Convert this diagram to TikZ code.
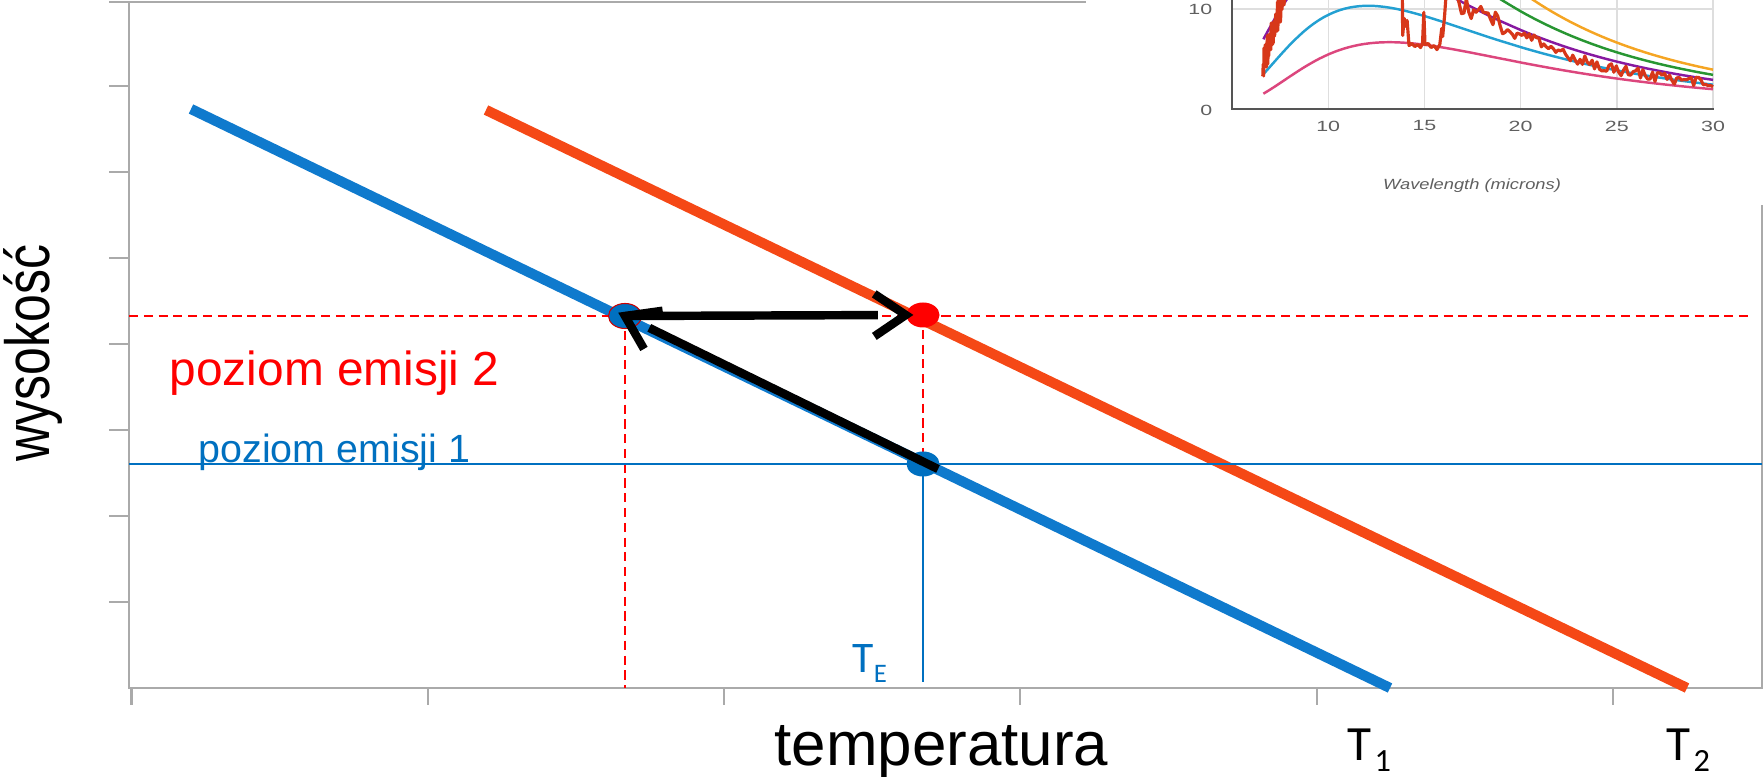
\documentclass[tikz,border=0pt]{standalone}
\usepackage{graphicx}
\usepackage{fontspec}
\setmainfont{Liberation Sans}
\newfontfamily\calfont{Carlito}
\usetikzlibrary{shapes.geometric, calc}

\definecolor{profBlue}{RGB}{15,122,205}
\definecolor{profRed}{RGB}{245,72,22}
\definecolor{lvlRed}{RGB}{255,0,0}
\definecolor{lvlBlue}{RGB}{0,112,192}
\definecolor{frameGray}{RGB}{170,170,170}
\definecolor{gridGray}{RGB}{222,222,222}
\definecolor{axisGray}{RGB}{85,85,85}
\definecolor{tickText}{RGB}{95,95,95}
\definecolor{bbPink}{RGB}{220,70,125}
\definecolor{bbCyan}{RGB}{35,160,210}
\definecolor{bbPurple}{RGB}{135,25,160}
\definecolor{bbGreen}{RGB}{40,150,50}
\definecolor{bbOrange}{RGB}{245,165,35}
\definecolor{specRed}{RGB}{215,55,25}

\tikzset{declare function={
  planck(\lm,\tk) = 3741.8/((\lm^2.5*exp(719.4/(\lm*\tk)))^2 - \lm^5);
  wx(\w) = 1232 + (\w-5)*19.24;
  wy(\v) = 109 - 10.07*\v;
}}

\begin{document}
\begin{tikzpicture}[
    x=0.01cm, y=-0.01cm,
    plotframe/.style={draw=frameGray, line width=0.6pt},
    profile/.style={line width=2.9pt},
    guide2/.style={draw=lvlRed, line width=0.45pt, dash pattern=on 2.6pt off 1.6pt},
    guide1/.style={draw=lvlBlue, line width=0.45pt},
    emdot/.style={ellipse, inner sep=0pt, minimum width=0.33cm, minimum height=0.25cm},
    lbl/.style={inner sep=0pt, anchor=base west},
    shaft/.style={line width=2.4pt, black},
    barb/.style={line width=2.4pt, black, line join=miter},
    gridline/.style={draw=gridGray, line width=0.4pt},
    bbcurve/.style={line width=0.7pt},
    spec/.style={draw=specRed, line width=0.9pt, line join=round},
    ticklbl/.style={text=tickText, inner sep=0pt, font=\fontsize{4.2}{5}\selectfont}
]
\useasboundingbox (0,0) rectangle (1764,777);

%% -- plot frame and ticks ---------------------------------------------------
\draw[plotframe] (109,2) -- (1086,2);
\draw[plotframe] (129,2) -- (129,688) -- (1762,688) -- (1762,205);
\foreach \y in {86,172,...,602} \draw[plotframe] (109,\y) -- (129,\y);
\foreach \i in {0,...,5} \draw[plotframe] ({131.5+296.3*\i},688) -- ++(0,17);

%% -- inset: outgoing spectrum -----------------------------------------------
\draw[gridline] (1232,9) -- (1714,9);
\foreach \w in {10,15,20,25,30} \draw[gridline] ({wx(\w)},0) -- ({wx(\w)},109);
\begin{scope}
  \clip (1232,0) rectangle (1716,109);
  \draw[bbcurve, bbPink]   plot[domain=6.63:30, samples=90] ({wx(\x)},{wy(planck(\x/10,220))});
  \draw[bbcurve, bbCyan]   plot[domain=6.63:30, samples=90] ({wx(\x)},{wy(planck(\x/10,240))});
  \draw[bbcurve, bbPurple] plot[domain=6.63:30, samples=90] ({wx(\x)},{wy(planck(\x/10,260))});
  \draw[bbcurve, bbGreen]  plot[domain=6.63:30, samples=90] ({wx(\x)},{wy(planck(\x/10,280))});
  \draw[bbcurve, bbOrange] plot[domain=6.63:30, samples=90] ({wx(\x)},{wy(planck(\x/10,300))});
  \pgfmathsetseed{42}
  \draw[spec] plot[domain=6.6:8.1, samples=70] ({wx(\x)},{wy(4.2 + 6.5*(\x-6.6) + 1.6*rand)});
  \draw[spec] ({wx(13.85)},{wy(12)})
    \foreach \w/\v in {13.87/7.3, 13.95/9.0, 14.0/8.2, 14.1/8.8, 14.2/6.3, 14.35/6.5,
                       14.5/6.2, 14.65/6.4, 14.8/6.1, 14.9/6.5, 14.97/9.6, 15.03/6.4,
                       15.2/6.5, 15.35/6.1, 15.5/6.3, 15.65/5.9, 15.8/6.4, 15.9/8.0,
                       15.95/7.2, 16.05/9.3, 16.15/12} { -- ({wx(\w)},{wy(\v)}) };
  \draw[spec] plot[domain=16.3:30, samples=110]
    ({wx(\x)},{wy(planck(\x/10,260-4*min(max(\x-19.5,0),4.5)) + ifthenelse(\x<20,1.2,0.55)*rand)});
\end{scope}
\draw[draw=axisGray, line width=0.7pt] (1232,0) -- (1232,109) -- (1714,109);
\node[ticklbl, anchor=east] (ytick10) at (1213,9)   {\scalebox{1.45}[1]{10}};
\node[ticklbl, anchor=east] (ytick0)  at (1213,110) {\scalebox{1.45}[1]{0}};
\foreach \w in {10,15,20,25,30}
  \node[ticklbl] (xtick\w) at ({wx(\w)},126) {\scalebox{1.45}[1]{\w}};
\node[text=tickText, inner sep=0pt, font=\itshape\fontsize{4.2}{5}\selectfont] (wlLabel)
  at (1472,186) {\scalebox{1.24}[1]{Wavelength (microns)}};

%% -- temperature profiles ----------------------------------------------------
\coordinate (prof1top) at (191,109);  \coordinate (prof1bot) at (1390,688);
\coordinate (prof2top) at (486,110);  \coordinate (prof2bot) at (1687,688);
\draw[profile, profBlue] (prof1top) -- (prof1bot);
\draw[profile, profRed]  (prof2top) -- (prof2bot);

%% -- emission levels ---------------------------------------------------------
\coordinate (axisO)  at (129,688);
\coordinate (pB2)    at (625,316);
\coordinate (pR2)    at (923,315);
\coordinate (pB1)    at (923,464);
\coordinate (lvl2L)  at (129,316);  \coordinate (lvl2R) at (1752,316);
\coordinate (lvl1L)  at (129,464);  \coordinate (lvl1R) at (1762,464);
\coordinate (teFoot) at (923,682);
\draw[guide2] (lvl2L) -- (lvl2R);
\draw[guide2] (pB2) -- (pB2 |- axisO);
\draw[guide2] (pR2) -- (pB1);
\draw[guide1] (lvl1L) -- (lvl1R);
\draw[guide1] (pB1) -- (teFoot);

%% -- labels ------------------------------------------------------------------
\node[lbl, text=lvlRed, font=\fontsize{13.6}{16}\selectfont] (txtLvl2) at (169,386) {poziom emisji 2};
\node[lbl, text=lvlBlue, font=\fontsize{11.2}{13}\selectfont] (txtLvl1) at (198,463) {poziom emisji 1};
\node[lbl, font=\fontsize{17.6}{20}\selectfont] (txtTemp) at (774,765) {temperatura};
\node[rotate=90, inner sep=0pt, font=\fontsize{14.2}{17}\selectfont] (txtHeight) at (33,353)
  {\scalebox{1}[1.25]{wysokość}};
\node[lbl, text=lvlBlue, font=\calfont\fontsize{12.4}{14}\selectfont] (txtTE) at (852,673)
  {T\raisebox{-2.8pt}{\fontsize{7.6}{8}\selectfont E}};
\node[lbl, font=\calfont\fontsize{14}{16}\selectfont] (txtT1) at (1347,761)
  {T\hspace{0.8pt}\raisebox{-2.9pt}{\fontsize{9.2}{10}\selectfont 1}};
\node[lbl, font=\calfont\fontsize{14}{16}\selectfont] (txtT2) at (1666,761)
  {T\hspace{0.8pt}\raisebox{-2.9pt}{\fontsize{9.2}{10}\selectfont 2}};

%% -- points ------------------------------------------------------------------
\node[emdot, fill=lvlBlue, draw=red!80!black, line width=0.3pt] (dotB2) at (pB2) {};
\node[emdot, fill=lvlRed]  (dotR2) at (pR2) {};
\node[emdot, fill=lvlBlue] (dotB1) at (pB1) {};

%% -- arrows ------------------------------------------------------------------
\coordinate (tailB1) at (938,469);
\draw[shaft] (tailB1) -- ($(dotB2.center)!0.27cm!(tailB1)$);
\draw[barb] ($(dotB2.center)!0.38cm!34:(tailB1)$) -- (dotB2.center) -- ($(dotB2.center)!0.38cm!-34:(tailB1)$);
\draw[shaft] (dotB2.center) -- ($(dotR2.west)!0.28cm!(dotB2.center)$);
\draw[barb] ($(dotR2.west)!0.38cm!34:(dotB2.center)$) -- (dotR2.west) -- ($(dotR2.west)!0.38cm!-34:(dotB2.center)$);

\end{tikzpicture}
\end{document}
